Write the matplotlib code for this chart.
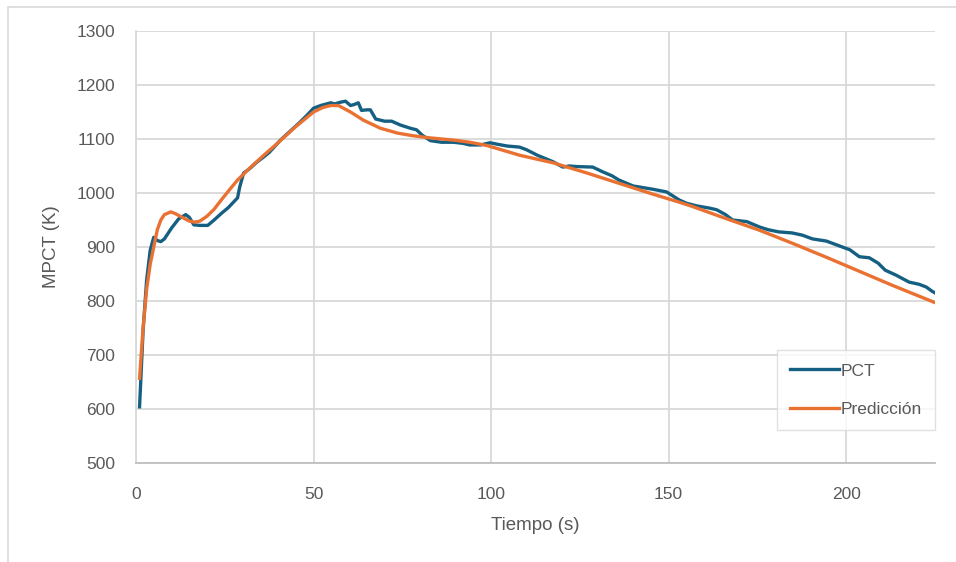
import matplotlib.pyplot as plt
from matplotlib.patches import Rectangle

# PCT series (time in s, temperature in K)
pct_t = [1, 2, 3, 4, 5, 6, 7, 8, 10, 12, 14, 15, 16.3, 18, 20.2, 22, 24, 26, 28.6, 29.2,
         30.3, 32, 34, 36, 37.5, 40.7, 43, 46, 48, 50, 52, 54.8, 56, 57.5, 59, 60.4,
         61.5, 62.6, 63.5, 65, 66, 67.5, 70, 72, 74.4, 77.2, 79, 80.6, 82.9, 86, 89.4,
         92, 94, 97, 99.7, 102, 104.5, 108, 110, 113, 117.4, 120.2, 122, 124, 128.6,
         131.5, 134, 136, 140, 145.5, 149.4, 153, 155, 158, 161.5, 163.5, 166, 168, 172,
         175.6, 178, 181, 184.8, 187.6, 190.5, 194.4, 198.9, 201, 203.7, 206.5, 209, 211,
         214, 217.7, 220.5, 222.5, 224.2, 225]
pct_T = [604, 746, 839, 894, 918, 912, 910, 915, 935, 952, 960, 955, 941, 940, 940, 950,
         962, 973, 991, 1011, 1037, 1045, 1057, 1067, 1075, 1098, 1112, 1130, 1143, 1157,
         1162, 1167, 1165, 1168, 1170, 1162, 1164, 1167, 1153, 1154, 1154, 1137, 1133,
         1133, 1126, 1120, 1117, 1107, 1097, 1094, 1094, 1092, 1089, 1089, 1093, 1090,
         1087, 1085, 1080, 1070, 1058, 1048, 1050, 1049, 1048, 1039, 1032, 1024, 1013,
         1007, 1002, 987, 981, 976, 972, 969, 960, 950, 947, 937, 932, 928, 926, 922, 915,
         911, 900, 895, 882, 880, 870, 857, 848, 835, 831, 826, 818, 815]

# Prediccion series
pred_t = [1, 2, 3, 4, 5, 6, 7, 8, 9.8, 11, 13, 15, 16.5, 18, 20, 22, 24, 26.7, 28.6, 32,
          36, 40, 45, 50, 52.5, 54.8, 57, 60.4, 64, 68.8, 73.6, 78, 82.9, 89.4, 94, 98.8,
          108, 117.4, 127, 136, 145.5, 153, 156.7, 166, 175.6, 184.8, 194.4, 203.7, 213, 225]
pred_T = [657, 750, 822, 868, 900, 932, 950, 960, 965, 962, 955, 948, 946, 948, 957, 970,
          987, 1009, 1024, 1046, 1070, 1093, 1123, 1150, 1158, 1162, 1162, 1150, 1135,
          1120, 1111, 1106, 1102, 1098, 1094, 1088, 1070, 1056, 1037, 1018, 998, 983, 975,
          953, 931, 907, 881, 855, 829, 797]

x_ticks = [0, 50, 100, 150, 200]
y_ticks = [500, 600, 700, 800, 900, 1000, 1100, 1200, 1300]

plt.rcParams['font.family'] = ['Liberation Sans', 'DejaVu Sans']
TXT = '#595959'
GRID = '#D9D9D9'

fig = plt.figure(figsize=(9.56, 5.62), dpi=100)
ax = fig.add_axes([136/956, 1 - 463/562, 799/956, 432/562])

# outer chart border (only top/left visible in crop)
fig.patches.append(Rectangle((8/956, -0.1), 1.2, 1 - 7/562 + 0.1,
                             transform=fig.transFigure, fill=False,
                             edgecolor=GRID, lw=1.2))

ax.plot(pct_t, pct_T, color='#156082', lw=2.4, label='PCT', zorder=3)
ax.plot(pred_t, pred_T, color='#E97132', lw=2.4, label='Predicción', zorder=4)

ax.set_xlim(0, 225)
ax.set_ylim(500, 1300)
ax.set_xticks(x_ticks)
ax.set_yticks(y_ticks)
ax.grid(True, color=GRID, lw=1.3)
ax.set_axisbelow(True)
for s in ['top', 'right']:
    ax.spines[s].set_visible(False)
ax.spines['left'].set_color(GRID)
ax.spines['left'].set_linewidth(1.3)
ax.spines['bottom'].set_color('#BFBFBF')
ax.spines['bottom'].set_linewidth(1.3)
ax.tick_params(length=0, labelsize=12.5, labelcolor=TXT)
ax.tick_params(axis='y', pad=15)
ax.tick_params(axis='x', pad=17)

ax.set_xlabel('Tiempo (s)', fontsize=13.5, color=TXT, labelpad=11)
ax.set_ylabel('MPCT (K)', fontsize=13.5, color=TXT, labelpad=12)

leg = ax.legend(loc='lower right', bbox_to_anchor=(1.0, 0.076), fontsize=12.5,
                frameon=True, fancybox=False, edgecolor=GRID, labelcolor=TXT,
                handlelength=2.8, handletextpad=0.1, labelspacing=1.35,
                borderpad=0.75, borderaxespad=0)
leg.get_frame().set_linewidth(1.0)

fig.savefig('out.png', dpi=100)
